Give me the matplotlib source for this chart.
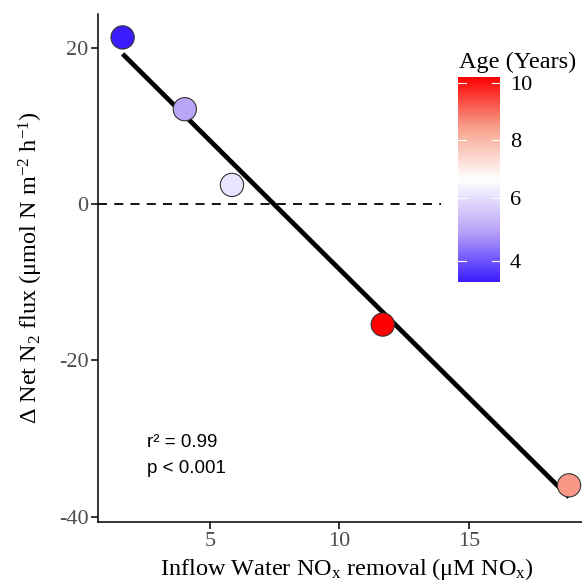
import numpy as np
import matplotlib
matplotlib.use("Agg")
import matplotlib.pyplot as plt
from matplotlib.colors import LinearSegmentedColormap, TwoSlopeNorm

plt.rcParams['font.family'] = 'Liberation Serif'
plt.rcParams['mathtext.fontset'] = 'custom'
plt.rcParams['mathtext.rm'] = 'Liberation Serif'
plt.rcParams['mathtext.it'] = 'Liberation Serif:italic'
plt.rcParams['axes.unicode_minus'] = False

# wetland inflow NOx removal vs change in net N2 flux, coloured by age
nox_removal = [1.63, 4.03, 5.85, 11.67, 18.86]
n2_flux = [21.4, 12.2, 2.5, -15.4, -36.0]
age_years = [3.33, 5.0, 6.1, 10.2, 8.5]
r2_text = "r\u00b2 = 0.99"
p_text = "p < 0.001"

W, H = 582, 584
fig = plt.figure(figsize=(W / 100, H / 100), dpi=100)
ax = fig.add_axes([98 / W, (H - 522) / H, (596 - 98) / W, (522 - 14) / H])

cmap = LinearSegmentedColormap.from_list(
    "age", ["#3a1cff", "#b9a4f7", "#ffffff", "#f7a38e", "#ff0000"])
norm = TwoSlopeNorm(vmin=min(age_years), vcenter=6.6, vmax=max(age_years))

# zero reference
ax.plot([0.68, 13.9], [0, 0], color="black", lw=1.3, ls=(0, (5, 4)), zorder=1)

# least-squares fit
slope, intercept = np.polyfit(nox_removal, n2_flux, 1)
xf = np.array([min(nox_removal), max(nox_removal)])
ax.plot(xf, slope * xf + intercept, color="black", lw=3.4, zorder=2,
        solid_capstyle="butt")

sc = ax.scatter(nox_removal, n2_flux, c=age_years, cmap=cmap, norm=norm,
                s=280, edgecolors="#333333", linewidths=0.8, zorder=3)

ax.set_xlim(0.68, 19.9)
ax.set_ylim(-40.7, 24.4)
ax.set_xticks([5, 10, 15])
ax.set_yticks([-40, -20, 0, 20])

for side in ["top", "right"]:
    ax.spines[side].set_visible(False)
for side in ["left", "bottom"]:
    ax.spines[side].set_linewidth(1.1)
ax.tick_params(direction="out", length=5, width=1.1, labelsize=16,
               labelcolor="#4d4d4d", pad=2)

ax.set_xlabel("Inflow Water NO$_\\mathrm{x}$ removal (\u03bcM NO$_\\mathrm{x}$)",
              fontsize=17.5, labelpad=4)
ax.set_ylabel("\u0394 Net N$_2$ flux (\u03bcmol N m$^{-2}$ h$^{-1}$)",
              fontsize=17.5, labelpad=10)

ax.text(147 / W, 1 - 447 / H, r2_text, transform=fig.transFigure,
        fontsize=13.5, family="Liberation Sans", va="baseline")
ax.text(147 / W, 1 - 473 / H, p_text, transform=fig.transFigure,
        fontsize=13.5, family="Liberation Sans", va="baseline")

# colour bar legend
cax = fig.add_axes([458 / W, (H - 282) / H, 42 / W, (282 - 77) / H])
cb = fig.colorbar(sc, cax=cax, ticks=[4, 6, 8, 10])
cb.outline.set_visible(False)
cax.tick_params(length=0, labelsize=16, labelcolor="black", pad=7)
for v in [4, 6, 8, 10]:
    cax.plot([0, 0.2], [v, v], color="white", lw=0.8, transform=cax.get_yaxis_transform())
    cax.plot([0.8, 1], [v, v], color="white", lw=0.8, transform=cax.get_yaxis_transform())
fig.text(459 / W, 1 - 68 / H, "Age (Years)", fontsize=17.5, va="baseline")

fig.savefig("out.png", dpi=100)
